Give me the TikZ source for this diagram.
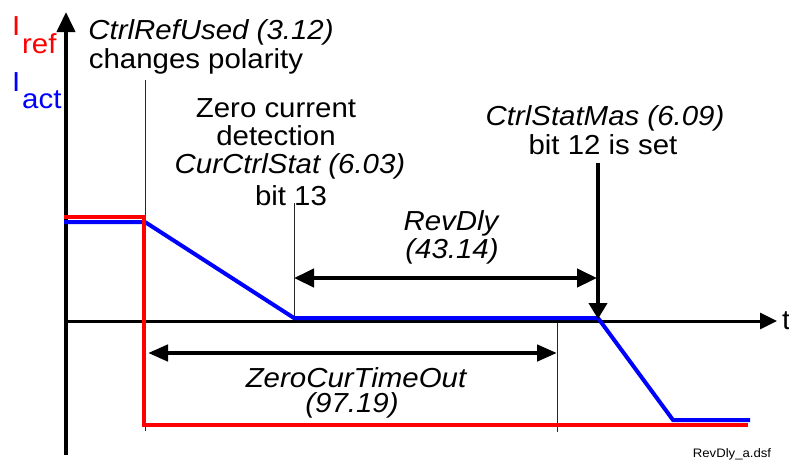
\documentclass[tikz,border=0pt]{standalone}
\usepackage{fontspec}
\setmainfont{Liberation Sans}[FakeStretch=1.07]
\usetikzlibrary{arrows.meta}
\definecolor{pured}{RGB}{255,0,0}
\definecolor{publue}{RGB}{0,0,255}
\tikzset{
  lbl/.style={inner sep=0pt, anchor=base, font=\fontsize{27.5}{29}\selectfont},
  ilbl/.style={lbl, font=\fontsize{27.5}{29}\selectfont\itshape},
  reftrace/.style={draw=pured, line width=4pt, line join=miter},
  acttrace/.style={draw=publue, line width=4pt, line join=miter},
  thinmark/.style={draw=black!85, line width=1pt},
  bigtip/.style={line width=4.5pt, {Triangle[length=20pt,width=18pt]}-{Triangle[length=20pt,width=18pt]}},
}
\begin{document}
\begin{tikzpicture}[x=1pt,y=-1pt]
\useasboundingbox (0,0) rectangle (789,459);
% coordinates
\coordinate (ybot) at (66,455);
\coordinate (ytop) at (66,12);
\coordinate (xstart) at (64,321);
\coordinate (xend) at (777,321);
\coordinate (r0) at (64,217);
\coordinate (r1) at (144,217);
\coordinate (r2) at (144,425);
\coordinate (r3) at (748,425);
\coordinate (a0) at (64,222);
\coordinate (a1) at (145,222);
\coordinate (a2) at (294,318);
\coordinate (a3) at (598,318);
\coordinate (a4) at (673,420);
\coordinate (a5) at (750,420);
\coordinate (m1t) at (145,80);
\coordinate (m1b) at (145,431);
\coordinate (m2t) at (294,203);
\coordinate (m2b) at (294,318);
\coordinate (m3t) at (557,322);
\coordinate (m3b) at (557,432);
\coordinate (vt) at (598,163);
\coordinate (vb) at (598,319);
\coordinate (rdl) at (294,278);
\coordinate (rdr) at (597,278);
\coordinate (zl) at (148,353);
\coordinate (zr) at (557,353);
% thin marker lines
\draw[thinmark] (m1t) -- (m1b);
\draw[thinmark] (m2t) -- (m2b);
\draw[thinmark] (m3t) -- (m3b);
% axes
\draw[line width=4pt, -{Triangle[length=20pt,width=18pt]}] (ybot) -- (ytop);
\draw[line width=3pt, -{Triangle[length=17pt,width=16pt]}] (xstart) -- (xend);
% traces
\draw[acttrace] (a0) -- (a1) -- (a2) -- (a3) -- (a4) -- (a5);
\draw[reftrace] (r0) -- (r1) -- (r2) -- (r3);
% arrows
\draw[line width=4pt, -{Triangle[length=16pt,width=18pt]}] (vt) -- (vb);
\draw[bigtip] (rdl) -- (rdr);
\draw[line width=4.5pt, {Triangle[length=20pt,width=16pt]}-{Triangle[length=20pt,width=16pt]}] (zl) -- (zr);
% labels
\node[lbl, text=pured, anchor=base west] (iref) at (12,35) {I};
\node[lbl, text=pured, anchor=base west] (irefs) at (22,53) {ref};
\node[lbl, text=publue, anchor=base west] (iact) at (12,91) {I};
\node[lbl, text=publue, anchor=base west] (iacts) at (22,108) {act};
\node[ilbl] (cru) at (211,39) {CtrlRefUsed (3.12)};
\node[lbl] (chp) at (196,68) {changes polarity};
\node[lbl] (zc) at (276,117) {Zero current};
\node[lbl] (det) at (276,145) {detection};
\node[ilbl] (ccs) at (290,173) {CurCtrlStat (6.03)};
\node[lbl] (b13) at (291,205) {bit 13};
\node[ilbl] (csm) at (605,125) {CtrlStatMas (6.09)};
\node[lbl] (b12) at (603,154) {bit 12 is set};
\node[ilbl] (rd) at (451,230) {RevDly};
\node[ilbl] (rdn) at (452,258) {(43.14)};
\node[ilbl] (zct) at (356,387) {ZeroCurTimeOut};
\node[ilbl] (zctn) at (352,412) {(97.19)};
\node[lbl, anchor=base west] (tl) at (782,329) {t};
\node[inner sep=0pt, anchor=base, font=\fontsize{12.3}{13}\selectfont] (fn) at (732,457) {RevDly\_a.dsf};
\end{tikzpicture}
\end{document}
